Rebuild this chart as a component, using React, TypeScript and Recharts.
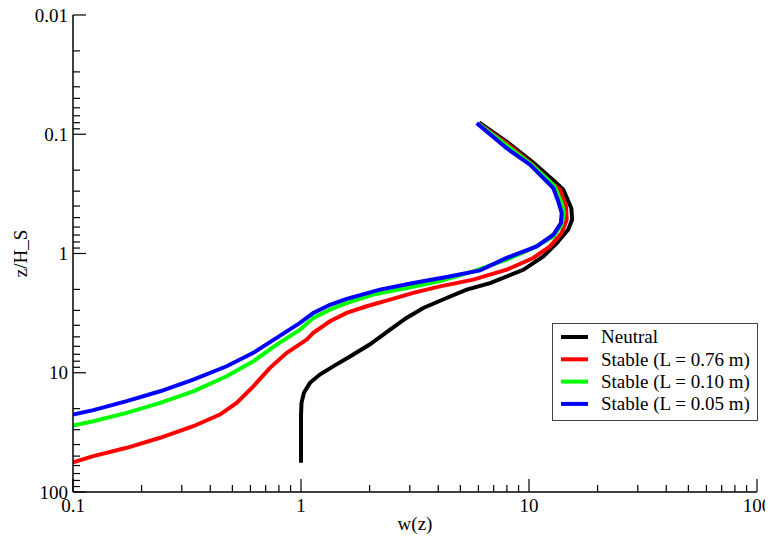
import React from 'react';
import { LineChart, Line, XAxis, YAxis, Legend } from 'recharts';

// ---- data (w(z) vs z/H_S) ----
const neutralW = [1.0, 1.0, 1.005, 1.03, 1.095, 1.21, 1.39, 1.64, 2.0, 2.46, 2.9, 3.44, 4.35, 5.33, 6.75, 9.44, 11.55, 13.23, 14.87, 15.45, 15.35, 14.14, 13.0, 10.4, 8.0, 6.05];
const neutralZ = [56.8, 23.0, 17.9, 14.7, 12.15, 10.35, 8.8, 7.3, 5.8, 4.35, 3.47, 2.86, 2.36, 2.01, 1.77, 1.37, 1.06, 0.82, 0.63, 0.52, 0.42, 0.292, 0.25, 0.172, 0.116, 0.08];

const stable076W = [0.1, 0.1228, 0.172, 0.241, 0.337, 0.441, 0.522, 0.618, 0.731, 0.866, 1.06, 1.132, 1.34, 1.586, 1.941, 2.457, 3.108, 4.07, 5.7, 7.98, 10.44, 12.36, 13.91, 14.63, 14.53, 13.68, 12.58, 10.3, 8.0, 6.0];
const stable076Z = [56.5, 50.0, 42.6, 35.1, 28.1, 22.4, 17.9, 13.0, 9.1, 6.81, 5.27, 4.63, 3.7, 3.15, 2.77, 2.44, 2.14, 1.886, 1.657, 1.367, 1.09, 0.872, 0.673, 0.521, 0.403, 0.292, 0.257, 0.178, 0.12, 0.081];

const stable010W = [0.1, 0.1228, 0.172, 0.241, 0.337, 0.472, 0.618, 0.782, 0.99, 1.132, 1.34, 1.586, 2.075, 2.908, 4.07, 5.7, 7.98, 10.44, 12.78, 13.91, 14.24, 13.91, 12.9, 10.2, 7.98, 5.95];
const stable010Z = [27.7, 25.5, 21.7, 17.9, 14.3, 10.7, 8.01, 5.8, 4.35, 3.47, 2.96, 2.6, 2.21, 1.945, 1.7, 1.412, 1.127, 0.9, 0.719, 0.574, 0.458, 0.378, 0.27, 0.178, 0.124, 0.0807];

const stable005W = [0.1, 0.1228, 0.172, 0.241, 0.337, 0.472, 0.618, 0.782, 0.99, 1.132, 1.34, 1.586, 2.22, 3.108, 4.355, 6.1, 7.98, 10.81, 12.78, 13.8, 13.91, 13.44, 12.78, 10.1, 7.98, 5.9];
const stable005Z = [22.4, 20.6, 17.3, 14.3, 11.4, 8.82, 6.81, 5.1, 3.82, 3.15, 2.69, 2.4, 2.01, 1.77, 1.574, 1.385, 1.09, 0.872, 0.696, 0.555, 0.458, 0.366, 0.283, 0.18, 0.131, 0.0807];

const seriesNames = ['Neutral', 'Stable (L = 0.76 m)', 'Stable (L = 0.10 m)', 'Stable (L = 0.05 m)'];
const seriesColors = ['#000000', '#ff0000', '#00ff00', '#0000ff'];

const xDecades = [0.1, 1, 10, 100];
const yDecades = [0.01, 0.1, 1, 10, 100];
const minorSteps = [1, 2, 3, 4, 5, 6, 7, 8, 9];

const buildTicks = (decades: number[]) => {
  const out: number[] = [];
  decades.forEach((d, i) => {
    if (i === decades.length - 1) {
      out.push(d);
    } else {
      minorSteps.forEach((m) => out.push(Number((m * d).toPrecision(6))));
    }
  });
  return out;
};
const xTicks = buildTicks(xDecades);
const yTicks = buildTicks(yDecades);

const toPoints = (w: number[], z: number[]) => w.map((v, i) => ({ w: v, z: z[i] }));
const seriesData = [
  toPoints(neutralW, neutralZ),
  toPoints(stable076W, stable076Z),
  toPoints(stable010W, stable010Z),
  toPoints(stable005W, stable005Z),
];

const FONT = '"Liberation Serif", "Times New Roman", serif';
const FS = 19;
const MAJOR = 13;
const MINOR = 7;

const isMajor = (v: number, decades: number[]) => decades.some((d) => Math.abs(v - d) / d < 1e-6);

const textStyle = { fontFamily: FONT, fontSize: FS };

const makeTick = (side: 'bottom' | 'top' | 'left' | 'right', decades: number[]) => (props: any) => {
  const { x, y, payload } = props;
  const v = payload.value;
  const major = isMajor(v, decades);
  const len = major ? MAJOR : MINOR;
  let l: any;
  let label: any = null;
  if (side === 'bottom') {
    l = { x1: x, y1: y, x2: x, y2: y - len };
    if (major) label = <text x={x} y={y + 20} textAnchor="middle" style={textStyle} fill="#000">{String(v)}</text>;
  } else if (side === 'top') {
    l = { x1: x, y1: y, x2: x, y2: y + len };
  } else if (side === 'left') {
    l = { x1: x, y1: y, x2: x + len, y2: y };
    if (major) label = <text x={x - 5} y={y + 6.5} textAnchor="end" style={textStyle} fill="#000">{String(v)}</text>;
  } else {
    l = { x1: x, y1: y, x2: x - len, y2: y };
  }
  return (
    <g>
      <line {...l} stroke="#000" strokeWidth={1.2} />
      {label}
    </g>
  );
};

const renderLegend = (props: any) => {
  const payload = ((props && props.payload) || []).slice();
  payload.sort((a: any, b: any) => seriesNames.indexOf(a.value) - seriesNames.indexOf(b.value));
  return (
    <svg width={207} height={98} style={{ display: 'block' }}>
      <rect x={0.5} y={0.5} width={205} height={97} fill="#ffffff" stroke="#444444" strokeWidth={1} />
      {payload.map((p: any, i: number) => {
        const base = 20.3 + i * 22.3;
        return (
          <g key={i}>
            <line x1={9} x2={36} y1={base - 6.3} y2={base - 6.3} stroke={p.color} strokeWidth={4} />
            <text x={49} y={base} style={textStyle} fill="#000">{p.value}</text>
          </g>
        );
      })}
    </svg>
  );
};

const YTitle = (props: any) => {
  const vb = props.viewBox || { x: 0, y: 0, height: 0 };
  const cy = vb.y + vb.height / 2;
  const cx = 19;
  return (
    <text x={cx} y={cy} transform={`rotate(-90 ${cx} ${cy})`} textAnchor="middle" style={textStyle} fill="#000">
      z/H_S
    </text>
  );
};

const XTitle = (props: any) => {
  const vb = props.viewBox || { x: 0, y: 0, width: 0 };
  return (
    <text x={vb.x + vb.width / 2} y={vb.y + 38} textAnchor="middle" style={textStyle} fill="#000">
      w(z)
    </text>
  );
};

export default function App() {
  return (
    <div style={{ width: 765, height: 530, background: '#fff', fontFamily: FONT }}>
      <LineChart width={765} height={530} margin={{ top: 7, right: 16, left: 0, bottom: 0 }} style={{ overflow: 'visible' }}>
        <XAxis
          xAxisId="b"
          dataKey="w"
          type="number"
          scale="log"
          domain={[0.1, 100]}
          allowDataOverflow
          ticks={xTicks}
          interval={0}
          tickSize={0}
          tickMargin={0}
          tickLine={false}
          axisLine={{ stroke: '#000', strokeWidth: 1.5 }}
          tick={makeTick('bottom', xDecades)}
          height={46}
          label={<XTitle />}
        />
        <XAxis
          xAxisId="t"
          orientation="top"
          dataKey="w"
          type="number"
          scale="log"
          domain={[0.1, 100]}
          allowDataOverflow
          ticks={xTicks}
          interval={0}
          tickSize={0}
          tickMargin={0}
          tickLine={false}
          axisLine={{ stroke: '#000', strokeWidth: 1.5 }}
          tick={makeTick('top', xDecades)}
          height={0}
        />
        <YAxis
          yAxisId="l"
          dataKey="z"
          type="number"
          scale="log"
          domain={[0.01, 100]}
          reversed
          allowDataOverflow
          ticks={yTicks}
          interval={0}
          tickSize={0}
          tickMargin={0}
          tickLine={false}
          axisLine={{ stroke: '#000', strokeWidth: 1.5 }}
          tick={makeTick('left', yDecades)}
          width={65}
          label={<YTitle />}
        />
        <YAxis
          yAxisId="r"
          orientation="right"
          dataKey="z"
          type="number"
          scale="log"
          domain={[0.01, 100]}
          reversed
          allowDataOverflow
          ticks={yTicks}
          interval={0}
          tickSize={0}
          tickMargin={0}
          tickLine={false}
          axisLine={{ stroke: '#000', strokeWidth: 1.5 }}
          tick={makeTick('right', yDecades)}
          width={0}
        />
        {seriesData.map((d, i) => (
          <Line
            key={seriesNames[i]}
            xAxisId="b"
            yAxisId="l"
            data={d}
            dataKey="z"
            name={seriesNames[i]}
            type="linear"
            stroke={seriesColors[i]}
            strokeWidth={4}
            dot={false}
            activeDot={false}
            isAnimationActive={false}
          />
        ))}
        <Legend
          layout="horizontal"
          verticalAlign="middle"
          align="center"
          content={renderLegend}
          wrapperStyle={{ position: 'absolute', left: 544, top: 315, width: 207, height: 98 }}
        />
      </LineChart>
    </div>
  );
}
